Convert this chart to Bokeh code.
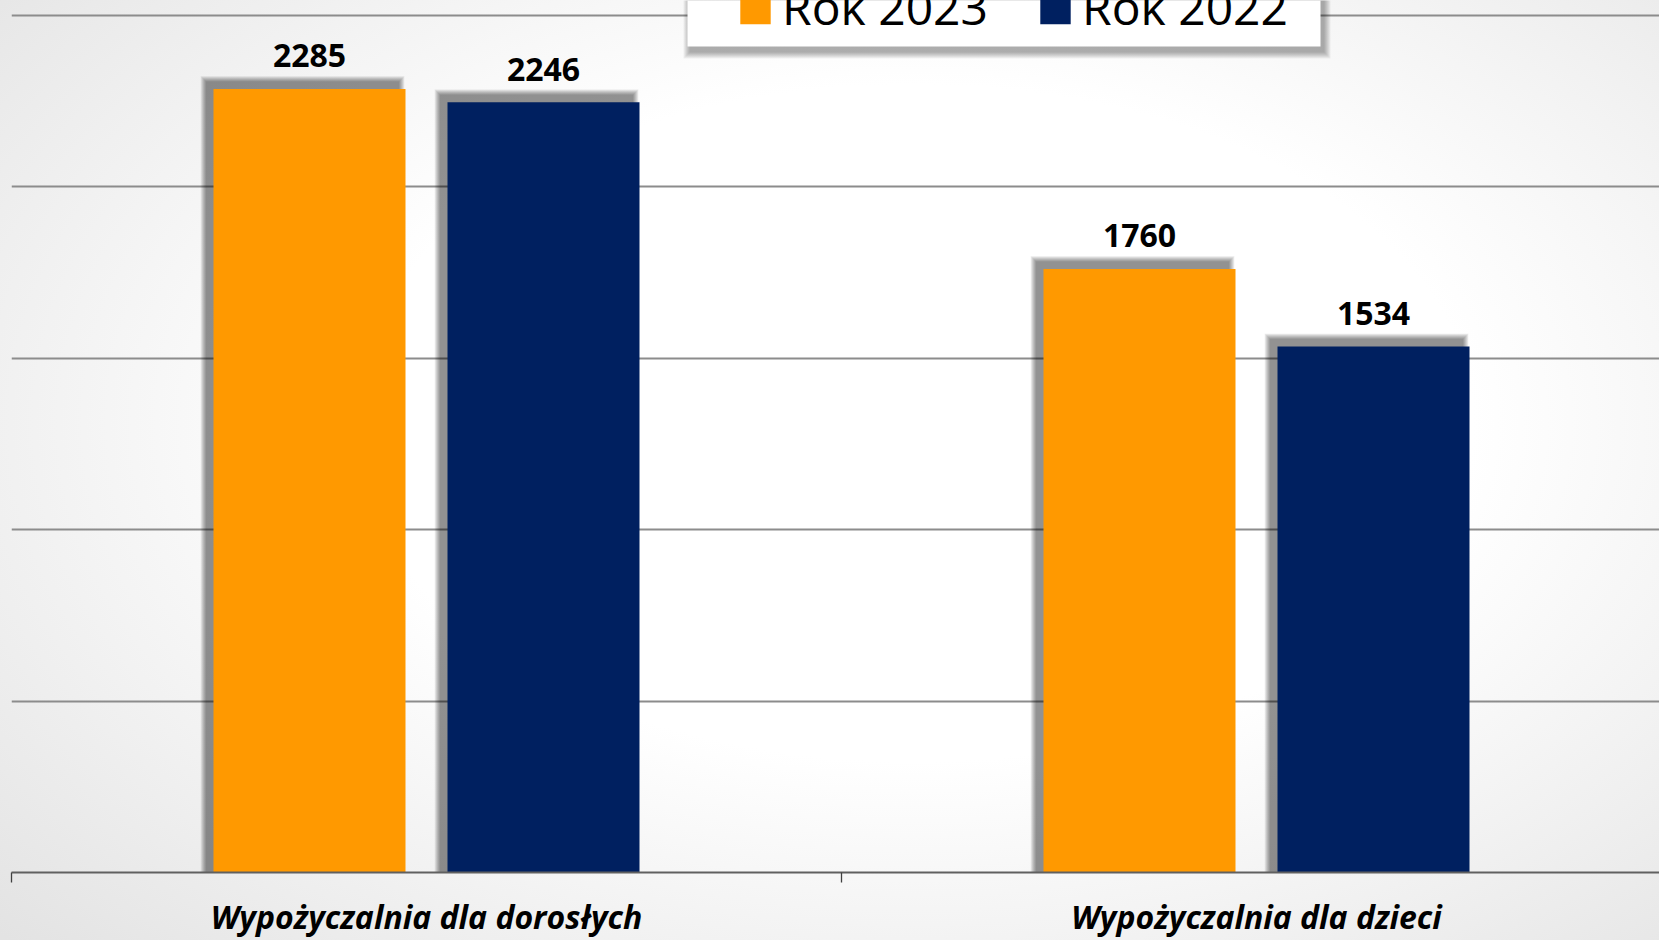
from bokeh.plotting import figure
from bokeh.models import (Range1d, FixedTicker, ColumnDataSource, LabelSet,
                          Legend, LegendItem, BoxAnnotation)
from bokeh.core.properties import value
from bokeh.embed import file_html
from bokeh.resources import INLINE

# ---------------- data ----------------
categories = ["Wypożyczalnia dla dorosłych", "Wypożyczalnia dla dzieci"]
series_names = ["Rok 2023", "Rok 2022"]
values_2023 = [2285, 1760]
values_2022 = [2246, 1534]
series_colors = ["#FF9900", "#002060"]
grid_values = [0, 500, 1000, 1500, 2000, 2500]
y_max = 2543

# ---------------- geometry ----------------
W, H = 1659, 940
BL, BB = 11, 66
frame_w = W - BL
frame_h = H - BB
cat_px = 830.0
x_end = frame_w / cat_px
ppx = x_end / frame_w          # data units per pixel (x)
ppy = y_max / frame_h          # data units per pixel (y)
bar_off = 117 / cat_px
bar_w = 192 / cat_px

centers = [i + 0.5 for i in range(len(categories))]
bounds = [i for i in range(len(categories) + 1)]

p = figure(width=W, height=H, x_range=Range1d(0, x_end), y_range=Range1d(0, y_max),
           output_backend="svg", toolbar_location=None, tools="",
           y_axis_location=None, min_border_left=BL, min_border_right=0,
           min_border_top=0, min_border_bottom=BB,
           background_fill_color=None, border_fill_color=None,
           outline_line_color=None)
p.styles = {"background": "radial-gradient(ellipse 75% 80% at 55% 45%, #ffffff 45%, #e3e3e3 100%)"}

# grid
p.xgrid.visible = False
p.ygrid.ticker = FixedTicker(ticks=grid_values)
p.ygrid.grid_line_color = "#8c8c8c"
p.ygrid.grid_line_width = 2

# x axis
ax = p.xaxis[0]
ax.ticker = FixedTicker(ticks=centers, minor_ticks=bounds)
ax.major_label_overrides = {c: n for c, n in zip(centers, categories)}
ax.major_tick_line_color = None
ax.major_tick_out = 0
ax.major_tick_in = 0
ax.minor_tick_line_color = "#404040"
ax.minor_tick_line_width = 1.3
ax.minor_tick_out = 10
ax.minor_tick_in = 0
ax.axis_line_color = "#606060"
ax.axis_line_width = 2
ax.major_label_text_font = "Open Sans"
ax.major_label_text_font_style = "bold italic"
ax.major_label_text_font_size = "32px"
ax.major_label_text_color = "#000000"
ax.major_label_standoff = 12

# bars with soft shadows (offset up-left)
renderers = []
for vals, color, sign in [(values_2023, series_colors[0], -1), (values_2022, series_colors[1], 1)]:
    xs = [c + sign * bar_off for c in centers]
    for k in range(1, 13):
        s = 0.5 * k
        p.vbar(x=[x - 7 * ppx for x in xs], width=bar_w + 2 * s * ppx,
               top=[v + (7 + s) * ppy for v in vals], bottom=0,
               fill_color="black", fill_alpha=0.042, line_color=None)
    r = p.vbar(x=xs, width=bar_w, top=vals, bottom=0, fill_color=color, line_color=None)
    renderers.append(r)
    src = ColumnDataSource(dict(x=xs, y=vals, t=[str(v) for v in vals]))
    p.add_layout(LabelSet(x="x", y="y", text="t", source=src, y_offset=21.6,
                          text_align="center", text_baseline="alphabetic",
                          text_font=value("Open Sans"), text_font_style="bold",
                          text_font_size="32px", text_color="#000000"))

# legend box with drop shadow
box_l, box_r, box_b = 687 - BL, 1320 - BL, frame_h - 48
for k in range(1, 8):
    p.add_layout(BoxAnnotation(left=box_l + 3 - k, right=box_r + 3 + k,
                               bottom=box_b - 5 - k, top=frame_h + 40,
                               left_units="screen", right_units="screen",
                               bottom_units="screen", top_units="screen",
                               fill_color="black", fill_alpha=0.05, line_color=None))
p.add_layout(BoxAnnotation(left=box_l, right=box_r, bottom=box_b, top=frame_h + 40,
                           left_units="screen", right_units="screen",
                           bottom_units="screen", top_units="screen",
                           fill_color="white", fill_alpha=1.0, line_color=None))

legend = Legend(items=[LegendItem(label=n, renderers=[r]) for n, r in zip(series_names, renderers)],
                location=(736 - BL, frame_h - 43.5), orientation="horizontal",
                padding=0, margin=0, spacing=0, glyph_width=38, glyph_height=42,
                label_standoff=8, label_width=254, label_height=70,
                label_text_font="Open Sans", label_text_font_size="48px",
                label_text_color="#000000",
                background_fill_alpha=0, border_line_color=None)
p.add_layout(legend)

open("out.html", "w").write(file_html(p, INLINE))
